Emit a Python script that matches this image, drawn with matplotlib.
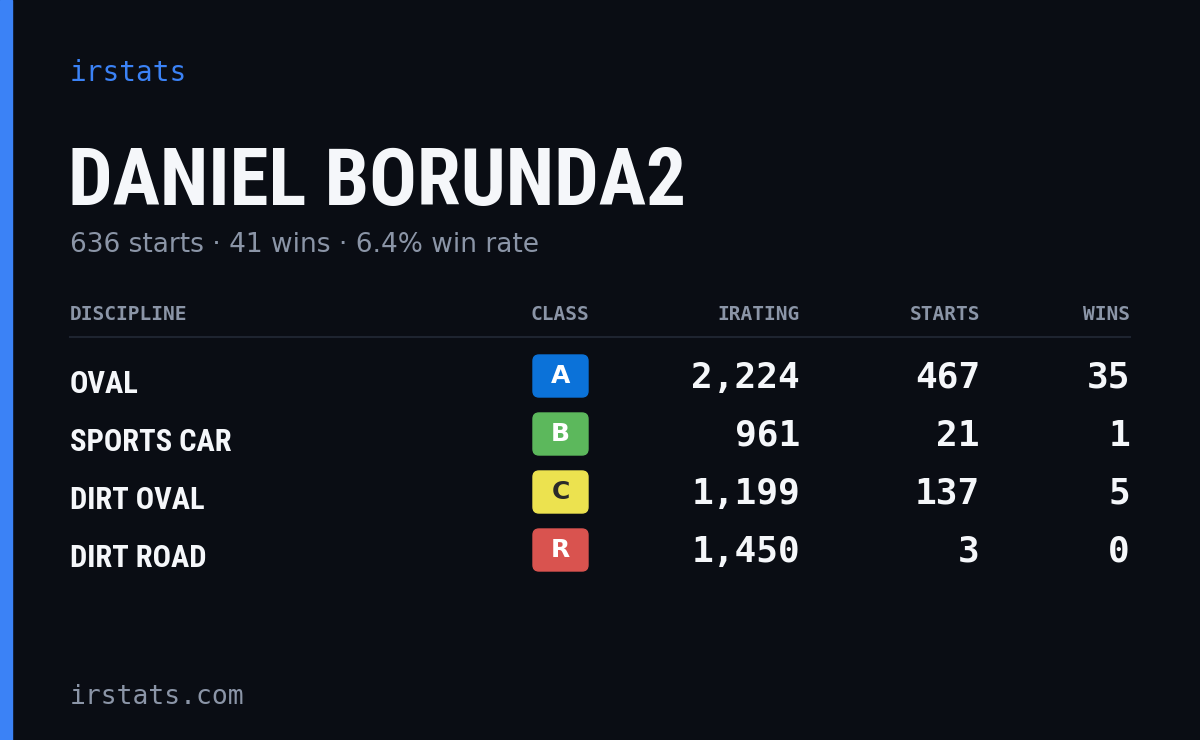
import matplotlib
matplotlib.use('Agg')
import matplotlib.pyplot as plt
from matplotlib.patches import FancyBboxPatch, Rectangle

# データ
driver = 'DANIEL BORUNDA2'
total_starts = 636
total_wins = 41
win_rate = 6.4
disciplines = ['OVAL', 'SPORTS CAR', 'DIRT OVAL', 'DIRT ROAD']
classes = ['A', 'B', 'C', 'R']
iratings = [2224, 961, 1199, 1450]
starts = [467, 21, 137, 3]
wins = [35, 1, 5, 0]

BG = '#0a0d14'
GRAY = '#8b95a7'
WHITE = '#f5f7fa'
BLUE = '#3b82f6'
badge_colors = {'A': '#0b72d9', 'B': '#5cb85c', 'C': '#ece24f', 'R': '#d9534f'}
badge_text = {'A': 'white', 'B': 'white', 'C': '#2a2a2a', 'R': 'white'}

narrow = ['Roboto Condensed', 'Open Sans Condensed', 'Liberation Sans Narrow',
          'DejaVu Sans Condensed', 'DejaVu Sans']
mono = ['DejaVu Sans Mono']

fig = plt.figure(figsize=(12, 7.4), dpi=100, facecolor=BG)
ax = fig.add_axes([0, 0, 1, 1])
ax.set_xlim(0, 1200)
ax.set_ylim(740, 0)
ax.axis('off')
ax.add_patch(Rectangle((0, 0), 12, 740, color=BLUE))

ax.text(70, 73, 'irstats', color=BLUE, fontsize=20, family=mono, va='center')
ax.text(68, 183, driver, color=WHITE, fontsize=57, family=narrow,
        fontweight='bold', fontstretch='condensed', va='center')
ax.text(70, 245, f'{total_starts} starts · {total_wins} wins · {win_rate}% win rate',
        color=GRAY, fontsize=19, family=['DejaVu Sans'], va='center')

hy = 314
hkw = dict(color=GRAY, fontsize=14, family=mono, fontweight='bold', va='center')
ax.text(70, hy, 'DISCIPLINE', **hkw)
ax.text(560, hy, 'CLASS', ha='center', **hkw)
ax.text(800, hy, 'IRATING', ha='right', **hkw)
ax.text(980, hy, 'STARTS', ha='right', **hkw)
ax.text(1130, hy, 'WINS', ha='right', **hkw)
ax.plot([70, 1130], [337, 337], color='#1e2430', lw=1.5)

for i, d in enumerate(disciplines):
    y = 378 + i * 58
    ax.text(70, y + 6, d, color=WHITE, fontsize=22, family=narrow,
            fontweight='bold', fontstretch='condensed', va='center')
    c = classes[i]
    ax.add_patch(FancyBboxPatch((533, y - 23), 55, 42,
                                boxstyle='round,pad=0,rounding_size=6',
                                color=badge_colors[c]))
    ax.text(560.5, y - 2, c, color=badge_text[c], fontsize=18, fontweight='bold',
            va='center', ha='center')
    nkw = dict(color=WHITE, fontsize=26, family=mono, fontweight='bold',
               va='center', ha='right')
    ax.text(800, y, f'{iratings[i]:,}', **nkw)
    ax.text(980, y, str(starts[i]), **nkw)
    ax.text(1130, y, str(wins[i]), **nkw)

ax.text(70, 697, 'irstats.com', color=GRAY, fontsize=19, family=mono,
        va='center')

fig.savefig('out.png', dpi=100, facecolor=BG)
